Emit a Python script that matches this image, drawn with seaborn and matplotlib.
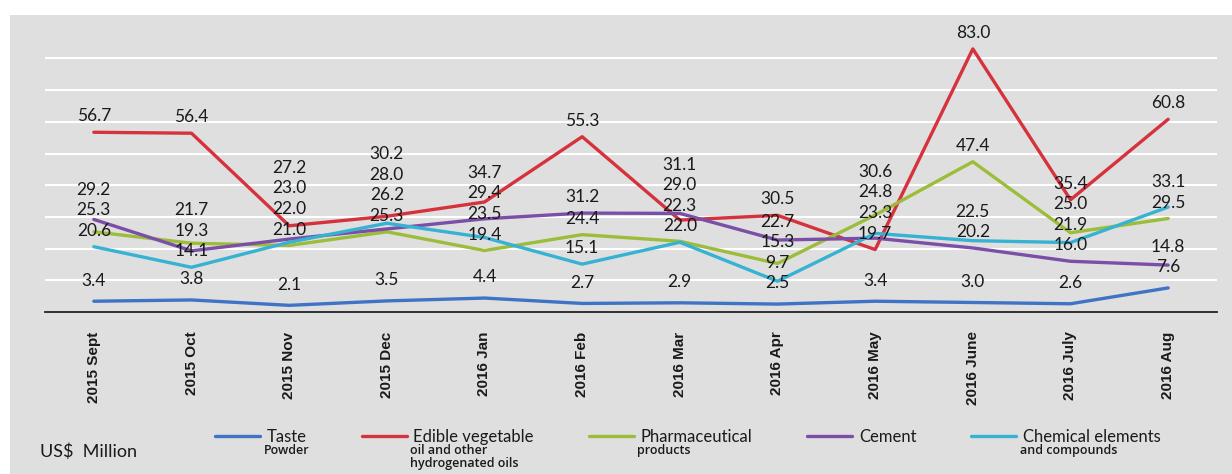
import numpy as np
import pandas as pd
import seaborn as sns
import matplotlib.pyplot as plt
from matplotlib.lines import Line2D
from matplotlib.patches import Rectangle
from matplotlib.ticker import FixedLocator

# ---- data (US$ million) ----
months = ['2015 Sept', '2015 Oct', '2015 Nov', '2015 Dec', '2016 Jan', '2016 Feb',
          '2016 Mar', '2016 Apr', '2016 May', '2016 June', '2016 July', '2016 Aug']
taste   = [3.4, 3.8, 2.1, 3.5, 4.4, 2.7, 2.9, 2.5, 3.4, 3.0, 2.6, 7.6]
edible  = [56.7, 56.4, 27.2, 30.2, 34.7, 55.3, 29.0, 30.5, 19.7, 83.0, 35.4, 60.8]
pharma  = [25.3, 21.7, 21.0, 25.3, 19.4, 24.4, 22.3, 15.3, 30.6, 47.4, 25.0, 29.5]
cement  = [29.2, 19.3, 23.0, 26.2, 29.4, 31.2, 31.1, 22.7, 23.3, 20.2, 16.0, 14.8]
chem    = [20.6, 14.1, 22.0, 28.0, 23.5, 15.1, 22.0, 9.7, 24.8, 22.5, 21.9, 33.1]

names = ['Taste', 'Edible vegetable', 'Pharmaceutical', 'Cement', 'Chemical elements']
subs  = ['Powder', 'oil and other\nhydrogenated oils', 'products', '', 'and compounds']
colors = ['#3f73c6', '#d6323e', '#9cbd3a', '#7b4ea7', '#36b2d2']
series = dict(zip(names, [taste, edible, pharma, cement, chem]))

df = pd.concat([pd.DataFrame({'month': months, 'value': v, 'product': n})
                for n, v in series.items()], ignore_index=True)

BG = '#dfdfdf'
W, H = 1232, 474

sns.set_style('white')
plt.rcParams['font.family'] = ['Lato', 'DejaVu Sans']

fig = plt.figure(figsize=(W / 100, H / 100), dpi=100, facecolor='white')
fig.patches.append(Rectangle((10 / W, 0), 1, (H - 15) / H, transform=fig.transFigure,
                             facecolor=BG, edgecolor='none', zorder=-10))
ax = fig.add_axes([45 / W, 162 / H, 1172 / W, 285.3 / H])
ax.set_facecolor(BG)

sns.lineplot(data=df, x='month', y='value', hue='product', hue_order=names,
             palette=colors, linewidth=2.4, sort=False, legend=False, ax=ax)

ax.set_xlim(-0.5, 11.5)
ax.set_ylim(0, 90)
ax.set_yticks(np.arange(10, 90, 10))
ax.yaxis.grid(True, color='white', linewidth=1.5)
ax.set_axisbelow(True)
ax.tick_params(axis='y', length=0, labelleft=False)
ax.set_xlabel('')
ax.set_ylabel('')
for s in ['left', 'right', 'top']:
    ax.spines[s].set_visible(False)
ax.spines['bottom'].set_color('#222222')
ax.spines['bottom'].set_linewidth(1.3)

ax.set_xticks(range(len(months)))
ax.set_xticklabels(months, rotation=90, fontweight='bold', family='Liberation Sans',
                   fontsize=11, color='#1a1a1a')
ax.tick_params(axis='x', which='major', length=0, pad=14)
ax.xaxis.set_minor_locator(FixedLocator(np.arange(-0.5, 12, 1)))
ax.tick_params(axis='x', which='minor', length=7, direction='inout',
               color='#222222', width=1.3)

# value labels, stacked upward so they do not collide
for i in range(len(months)):
    vals = sorted((series[n][i], n) for n in names)
    prev = -1e9
    for v, n in vals:
        base = 6.5 if n == 'Taste' else 5.0
        y = max(v + base, prev + 6.5)
        ax.text(i, y, f'{v:.1f}', ha='center', va='center', fontsize=12.5,
                color='#1a1a1a')
        prev = y

# legend
handles = [Line2D([], [], color=c, lw=2.4) for c in colors]
leg = fig.legend(handles, names, loc='center left', bbox_to_anchor=(215 / W, (H - 437) / H),
                 ncol=5, frameon=False, fontsize=12, handlelength=2.7,
                 handletextpad=0.4, columnspacing=3.3, borderpad=0, borderaxespad=0)
for t in leg.get_texts():
    t.set_color('#1a1a1a')

fig.text(40 / W, (H - 452) / H, 'US$  Million', va='center', fontsize=13, color='#1a1a1a')

fig.canvas.draw()
for t, sub in zip(leg.get_texts(), subs):
    if not sub:
        continue
    bb = t.get_window_extent()
    fig.text((bb.x0 - 3) / W, (bb.y0 + 1) / H, sub, ha='left', va='top', fontsize=9,
             family='Open Sans', fontweight='semibold', color='#1a1a1a', linespacing=1.05)

fig.savefig('out.png', dpi=100, facecolor=fig.get_facecolor())
